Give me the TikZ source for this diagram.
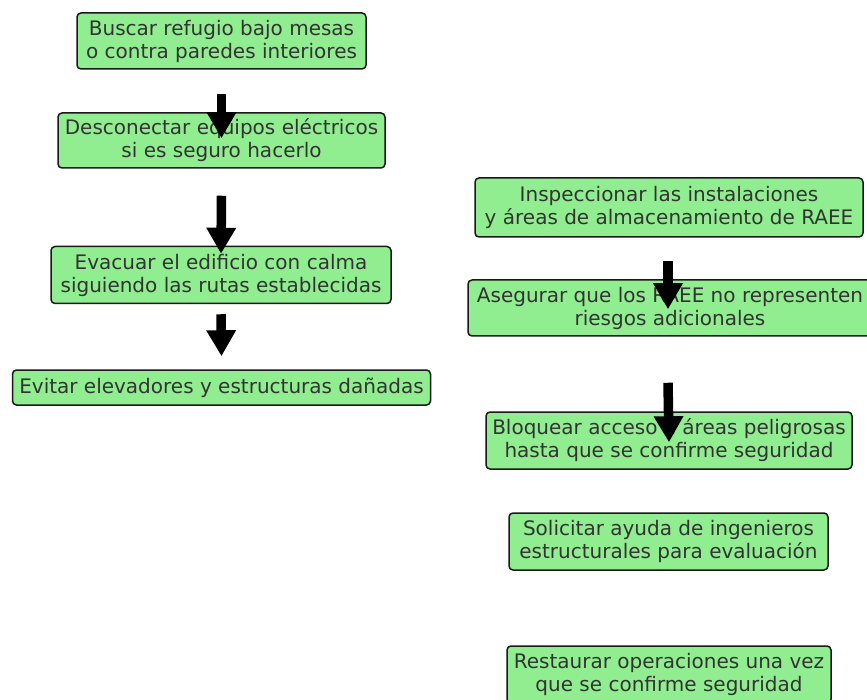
\documentclass[tikz,border=0pt]{standalone}
\usepackage{fontspec}
\setmainfont{DejaVu Sans}
\usetikzlibrary{arrows.meta}
\definecolor{boxgreen}{HTML}{90EE90}
\definecolor{boxtext}{HTML}{333333}
\tikzset{
  stepbox/.style={draw=black!90, line width=1.5pt, fill=boxgreen, rounded corners=4pt,
    inner sep=0pt, align=center, text=boxtext,
    font=\fontsize{20}{23}\selectfont},
  bigarrow/.style={line width=9.5pt, draw=black, -{Triangle[length=26pt,width=28pt]}}
}
\begin{document}
\begin{tikzpicture}[x=1pt,y=-1pt]
\useasboundingbox (0,0) rectangle (867,700);
\clip (0,0) rectangle (867,700);
\node[stepbox, minimum width=289pt, minimum height=56pt] (b1) at (221.5,41) {Buscar refugio bajo mesas\\o contra paredes interiores};
\node[stepbox, minimum width=327pt, minimum height=55pt] (b2) at (221.5,140.5) {Desconectar equipos eléctricos\\si es seguro hacerlo};
\node[stepbox, minimum width=340pt, minimum height=57pt] (b3) at (221,275) {Evacuar el edificio con calma\\siguiendo las rutas establecidas};
\node[stepbox, minimum width=418pt, minimum height=35pt] (b4) at (221.5,387.5) {Evitar elevadores y estructuras dañadas};
\node[stepbox, minimum width=388pt, minimum height=59pt] (r1) at (669,207.5) {Inspeccionar las instalaciones\\y áreas de almacenamiento de RAEE};
\node[stepbox, minimum width=404pt, minimum height=56pt] (r2) at (670,308) {Asegurar que los RAEE no representen\\riesgos adicionales};
\node[stepbox, minimum width=366pt, minimum height=57pt] (r3) at (669,440.5) {Bloquear acceso a áreas peligrosas\\hasta que se confirme seguridad};
\node[stepbox, minimum width=319pt, minimum height=57pt] (r4) at (668.5,541.5) {Solicitar ayuda de ingenieros\\estructurales para evaluación};
\node[stepbox, minimum width=324pt, minimum height=57pt] (r5) at (669,674.5) {Restaurar operaciones una vez\\que se confirme seguridad};
\draw[bigarrow] ([yshift=-24pt]b1.south) -- ([yshift=-26pt]b2.north);
\draw[bigarrow] ([yshift=-27pt]b2.south) -- ([yshift=-8pt]b3.north);
\draw[bigarrow] ([yshift=-10pt]b3.south) -- ([yshift=13pt]b4.north);
\draw[bigarrow] ([xshift=-1pt,yshift=-23pt]r1.south) -- ([xshift=-2pt,yshift=-30pt]r2.north);
\draw[bigarrow] ([xshift=-2pt,yshift=-46pt]r2.south) -- ([yshift=-31pt]r3.north);
\end{tikzpicture}
\end{document}
